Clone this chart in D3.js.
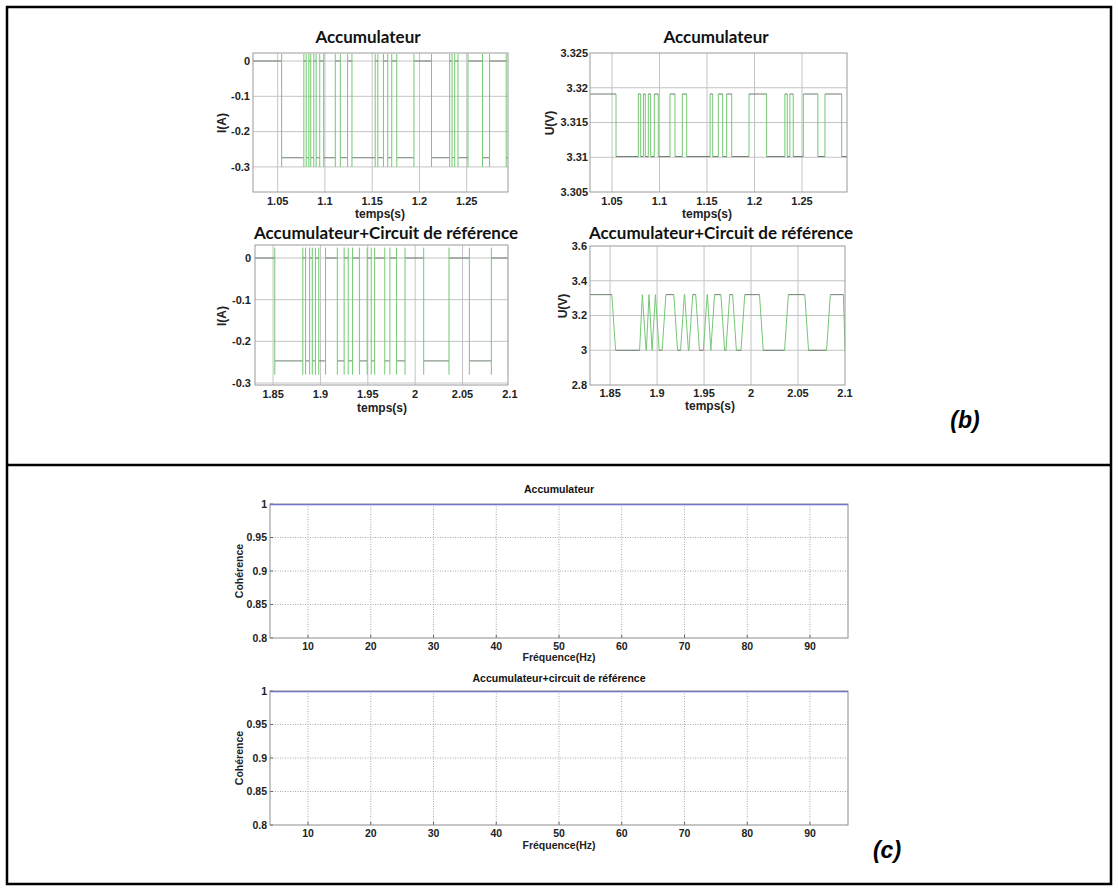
<!DOCTYPE html>
<html><head><meta charset="utf-8">
<script src="https://cdn.jsdelivr.net/npm/d3@7"></script>
<style>body{margin:0;background:#fff} svg{display:block}</style>
</head><body><svg id="chart" width="1118" height="890"></svg>
<script>
// ---------------- DATA ----------------
const timeTicksTop = [1.05, 1.1, 1.15, 1.2, 1.25];
const timeTicksBottom = [1.85, 1.9, 1.95, 2, 2.05, 2.1];
const currentTicksTop = [0, -0.1, -0.2, -0.3];
const voltageTicksTop = [3.305, 3.31, 3.315, 3.32, 3.325];
const currentTicksBottom = [0, -0.1, -0.2, -0.3];
const voltageTicksBottom = [2.8, 3, 3.2, 3.4, 3.6];
const freqTicks = [10, 20, 30, 40, 50, 60, 70, 80, 90];
const cohTicks = [0.8, 0.85, 0.9, 0.95, 1];

// times (s) at which the cell toggles between rest and discharge (starts at rest)
const switchTimesTop = [1.0542, 1.0777, 1.0802, 1.083, 1.085, 1.0882, 1.0907, 1.0945, 1.0987, 1.111,
  1.1163, 1.124, 1.1286, 1.1532, 1.156, 1.1619, 1.1665, 1.1707, 1.176, 1.1942, 1.2128, 1.232,
  1.2345, 1.2373, 1.2408, 1.2514, 1.2667, 1.2742, 1.2918];
const switchTimesBottom = [1.8518, 1.8814, 1.8843, 1.8886, 1.8914, 1.8947, 1.8982, 1.9054, 1.9178,
  1.925, 1.9293, 1.9339, 1.9411, 1.9493, 1.9536, 1.9572, 1.9679, 1.9733, 1.9804, 1.9893, 2.009,
  2.0357, 2.0572, 2.0804, 2.0983];

const currentLevelsTop = [0, -0.274];      // rest, discharge (A)
const currentSpikeTop = [0.02, -0.3];      // transient extremes (A)
const voltageLevelsTop = [3.3191, 3.3101]; // rest, discharge (V)
const currentLevelsBottom = [0, -0.247];
const currentSpikeBottom = [0.025, -0.28];
const voltageLevelsBottom = [3.32, 3.0];
const voltageRampBottom = 0.004;           // s

const cohFreq = [3.94, 10, 20, 30, 40, 50, 60, 70, 80, 90, 96.06];
const cohAccu = [1, 1, 1, 1, 1, 1, 1, 1, 1, 1, 1];
const cohAccuRef = [1, 1, 1, 1, 1, 1, 1, 1, 1, 1, 1];

// ---------------- DRAW ----------------
const svg = d3.select("#chart");
const ARIAL = "'Liberation Sans', Arial, sans-serif";
const LATO = "Lato, 'Open Sans', sans-serif";
const GREEN = "#74c874", PLATEAU = "#6f7d6f";

// outer frame
svg.append("rect").attr("x", 7).attr("y", 7).attr("width", 1104).attr("height", 877)
  .attr("fill", "none").attr("stroke", "#000").attr("stroke-width", 2.5);
svg.append("line").attr("x1", 7).attr("x2", 1111).attr("y1", 465).attr("y2", 465)
  .attr("stroke", "#000").attr("stroke-width", 2.5);

let clipId = 0;
function makeAxes(c) {
  const x = d3.scaleLinear().domain(c.xd).range([c.x0, c.x1]);
  const y = d3.scaleLinear().domain(c.yd).range([c.y1, c.y0]);
  const g = svg.append("g");
  const id = "clip" + (clipId++);
  g.append("clipPath").attr("id", id).append("rect")
    .attr("x", c.x0).attr("y", c.y0).attr("width", c.x1 - c.x0).attr("height", c.y1 - c.y0);
  // grid
  const grid = g.append("g").attr("stroke", c.gridColor).attr("stroke-width", 1)
    .attr("stroke-dasharray", c.dotted ? "1,1.5" : null);
  c.xt.forEach(v => { const px = x(v); if (px > c.x0 + 1 && px < c.x1 - 1)
    grid.append("line").attr("x1", px).attr("x2", px).attr("y1", c.y0).attr("y2", c.y1); });
  c.yt.forEach(v => { const py = y(v); if (py > c.y0 + 1 && py < c.y1 - 1)
    grid.append("line").attr("x1", c.x0).attr("x2", c.x1).attr("y1", py).attr("y2", py); });
  // tick labels
  c.xt.forEach(v => g.append("text").attr("x", x(v)).attr("y", c.xLabY)
    .attr("text-anchor", "middle").attr("font-family", ARIAL).attr("font-weight", "bold")
    .attr("font-size", c.tickSize).attr("fill", "#222").text(String(v)));
  c.yt.forEach(v => g.append("text").attr("x", c.yLabX).attr("y", y(v)).attr("dy", "0.35em")
    .attr("text-anchor", "end").attr("font-family", ARIAL).attr("font-weight", "bold")
    .attr("font-size", c.tickSize).attr("fill", "#222").text(String(v)));
  if (c.ticks) {
    const tk = g.append("g").attr("stroke", "#666");
    c.xt.forEach(v => tk.append("line").attr("x1", x(v)).attr("x2", x(v)).attr("y1", c.y1).attr("y2", c.y1 - 3));
    c.yt.forEach(v => tk.append("line").attr("x1", c.x0).attr("x2", c.x0 + 3).attr("y1", y(v)).attr("y2", y(v)));
  }
  const plot = g.append("g").attr("clip-path", `url(#${id})`);
  g.append("rect").attr("x", c.x0).attr("y", c.y0)
    .attr("width", c.x1 - c.x0).attr("height", c.y1 - c.y0)
    .attr("fill", "none").attr("stroke", c.boxColor).attr("stroke-width", 1);
  // title & labels
  g.append("text").attr("x", c.titleX).attr("y", c.titleY).attr("text-anchor", "middle")
    .attr("font-family", c.titleFont).attr("font-weight", "bold").attr("font-size", c.titleSize)
    .attr("fill", "#111").text(c.title);
  g.append("text").attr("x", c.xLabelX).attr("y", c.xLabelY).attr("text-anchor", "middle")
    .attr("font-family", ARIAL).attr("font-weight", "bold").attr("font-size", c.labelSize)
    .attr("fill", "#222").text(c.xLabel);
  g.append("text").attr("transform", `translate(${c.yLabelX},${c.yLabelY}) rotate(-90)`)
    .attr("text-anchor", "middle").attr("font-family", ARIAL).attr("font-weight", "bold")
    .attr("font-size", c.labelSize).attr("fill", "#222").text(c.yLabel);
  return { x, y, plot };
}

// plateau segments between switch times
function plateaus(sw, levels, t0, t1, ramp) {
  const segs = []; let s = 0, start = t0;
  sw.forEach(t => { segs.push([[start, levels[s]], [t, levels[s]]]); s = 1 - s; start = t + ramp; });
  segs.push([[start, levels[s]], [t1, levels[s]]]);
  return segs.filter(d => d[1][0] > d[0][0]);
}
function transitions(sw, levels, t1, ramp) {
  let s = 0;
  return sw.map((t, i) => {
    const next = i + 1 < sw.length ? sw[i + 1] : t1;
    const seg = [[t, levels[s]], [Math.min(t + ramp, next), levels[1 - s]]];
    s = 1 - s; return seg;
  });
}
const line = (ax) => d3.line().x(d => ax.x(d[0])).y(d => ax.y(d[1]));

function drawCurrent(ax, sw, levels, spike) {
  const [t0, t1] = ax.x.domain();
  ax.plot.append("g").selectAll("path").data(plateaus(sw, levels, t0, t1, 0)).join("path")
    .attr("d", line(ax)).attr("fill", "none").attr("stroke", PLATEAU).attr("stroke-width", 1);
  ax.plot.append("g").selectAll("line").data(sw).join("line")
    .attr("x1", d => ax.x(d)).attr("x2", d => ax.x(d))
    .attr("y1", ax.y(spike[0])).attr("y2", ax.y(spike[1]))
    .attr("stroke", GREEN).attr("stroke-width", 1);
}
function drawVoltage(ax, sw, levels, ramp) {
  const [t0, t1] = ax.x.domain();
  ax.plot.append("g").selectAll("path").data(transitions(sw, levels, t1, ramp)).join("path")
    .attr("d", line(ax)).attr("fill", "none").attr("stroke", GREEN).attr("stroke-width", 1);
  ax.plot.append("g").selectAll("path").data(plateaus(sw, levels, t0, t1, ramp)).join("path")
    .attr("d", line(ax)).attr("fill", "none").attr("stroke", PLATEAU).attr("stroke-width", 1);
}

const bCommon = { gridColor: "#c4c4c4", boxColor: "#9a9a9a", tickSize: 11, labelSize: 12,
  titleFont: LATO, titleSize: 17, dotted: false, ticks: false };

// (b) top-left
const axTL = makeAxes(Object.assign({}, bCommon, {
  x0: 253, x1: 508, y0: 53, y1: 192, xd: [1.0239, 1.2937], yd: [-0.371, 0.0227],
  xt: timeTicksTop, yt: currentTicksTop, xLabY: 205, yLabX: 250,
  title: "Accumulateur", titleX: 368, titleY: 43,
  xLabel: "temps(s)", xLabelX: 380, xLabelY: 218, yLabel: "I(A)", yLabelX: 226, yLabelY: 123 }));
drawCurrent(axTL, switchTimesTop, currentLevelsTop, currentSpikeTop);

// (b) top-right
const axTR = makeAxes(Object.assign({}, bCommon, {
  x0: 590, x1: 847, y0: 53, y1: 192, xd: [1.0268, 1.2974], yd: [3.305, 3.325],
  xt: timeTicksTop, yt: voltageTicksTop, xLabY: 205, yLabX: 588,
  title: "Accumulateur", titleX: 716, titleY: 43,
  xLabel: "temps(s)", xLabelX: 707, xLabelY: 218, yLabel: "U(V)", yLabelX: 554, yLabelY: 123 }));
drawVoltage(axTR, switchTimesTop, voltageLevelsTop, 0);

// (b) bottom-left
const axBL = makeAxes(Object.assign({}, bCommon, {
  x0: 255, x1: 508, y0: 245, y1: 385, xd: [1.8309, 2.098], yd: [-0.3048, 0.0312],
  xt: timeTicksBottom, yt: currentTicksBottom, xLabY: 398, yLabX: 251,
  title: "Accumulateur+Circuit de référence", titleX: 386, titleY: 239,
  xLabel: "temps(s)", xLabelX: 382, xLabelY: 412, yLabel: "I(A)", yLabelX: 226, yLabelY: 316 }));
drawCurrent(axBL, switchTimesBottom, currentLevelsBottom, currentSpikeBottom);

// (b) bottom-right
const axBR = makeAxes(Object.assign({}, bCommon, {
  x0: 590, x1: 845, y0: 246, y1: 385, xd: [1.8286, 2.1], yd: [2.8, 3.6],
  xt: timeTicksBottom, yt: voltageTicksBottom, xLabY: 397, yLabX: 587,
  title: "Accumulateur+Circuit de référence", titleX: 721, titleY: 239,
  xLabel: "temps(s)", xLabelX: 710, xLabelY: 410, yLabel: "U(V)", yLabelX: 567, yLabelY: 306 }));
drawVoltage(axBR, switchTimesBottom, voltageLevelsBottom, voltageRampBottom);

svg.append("text").attr("x", 965).attr("y", 428).attr("text-anchor", "middle")
  .attr("font-family", ARIAL).attr("font-weight", "bold").attr("font-style", "italic")
  .attr("font-size", 23).attr("fill", "#000").text("(b)");

// (c)
const cCommon = { gridColor: "#a8a8a8", boxColor: "#8c8c8c", tickSize: 10.5, labelSize: 10.5,
  titleFont: ARIAL, titleSize: 10.5, dotted: true, ticks: true,
  x0: 270, x1: 848, xd: [3.94, 96.06], yd: [0.8, 1], xt: freqTicks, yt: cohTicks,
  yLabX: 267, titleX: 559, xLabel: "Fréquence(Hz)", xLabelX: 559, yLabel: "Cohérence", yLabelX: 243 };

const axC1 = makeAxes(Object.assign({}, cCommon, {
  y0: 504, y1: 638, xLabY: 650, title: "Accumulateur", titleY: 493, xLabelY: 661, yLabelY: 571 }));
const axC2 = makeAxes(Object.assign({}, cCommon, {
  y0: 691, y1: 825, xLabY: 837, title: "Accumulateur+circuit de référence", titleY: 682,
  xLabelY: 849, yLabelY: 758 }));

[[axC1, cohAccu], [axC2, cohAccuRef]].forEach(([ax, vals]) => {
  ax.plot.append("path").datum(cohFreq.map((f, i) => [f, vals[i]]))
    .attr("d", line(ax)).attr("fill", "none").attr("stroke", "#5a5aff").attr("stroke-width", 2.5);
});

svg.append("text").attr("x", 887).attr("y", 858).attr("text-anchor", "middle")
  .attr("font-family", ARIAL).attr("font-weight", "bold").attr("font-style", "italic")
  .attr("font-size", 23).attr("fill", "#000").text("(c)");
</script></body></html>
